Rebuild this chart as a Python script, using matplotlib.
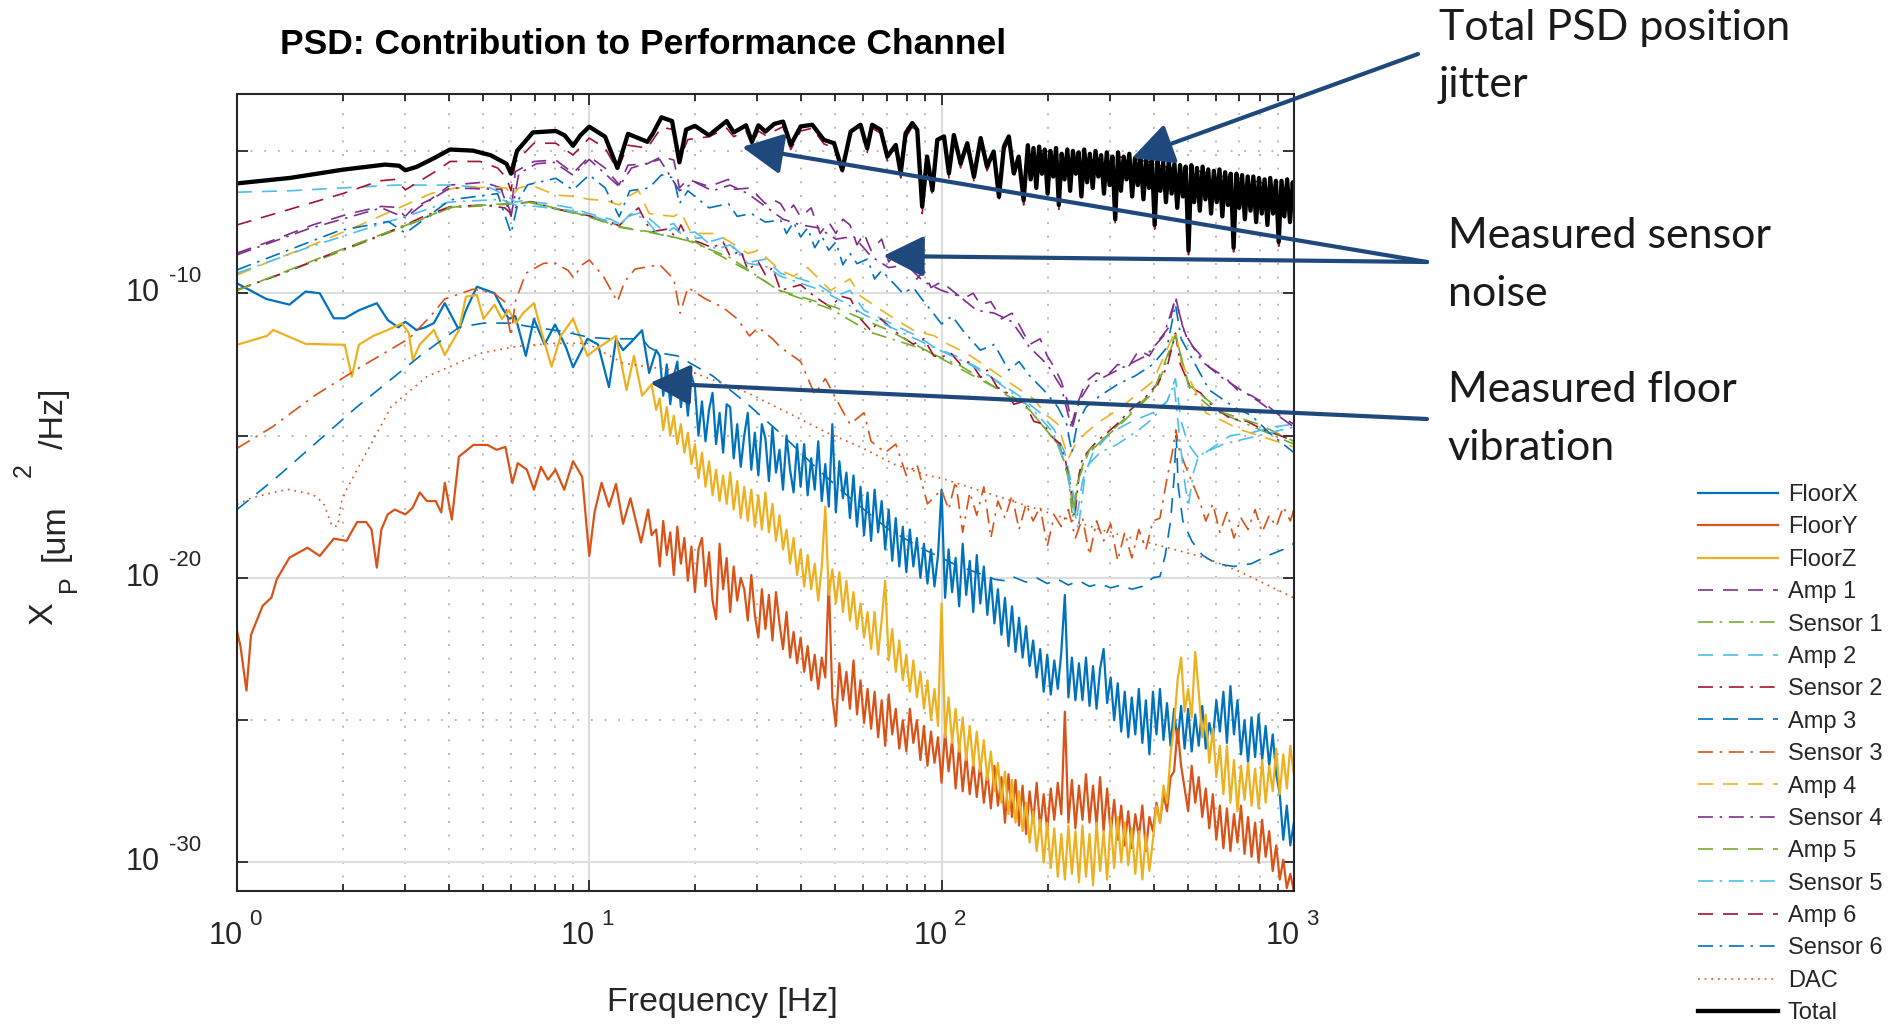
import numpy as np
import matplotlib.pyplot as plt
from matplotlib.ticker import FixedLocator, LogLocator, NullFormatter

plt.rcParams['font.family'] = ['Liberation Sans', 'DejaVu Sans']

# each row: log10(frequency in Hz), log10(PSD in um^2/Hz)
floor_x_low = np.array([
    (0.00, -9.65), (0.083, -10.2), (0.149, -10.4), (0.195, -9.94), (0.235, -10.0), (0.275, -10.88),
    (0.306, -10.88), (0.346, -10.6), (0.397, -10.35), (0.428, -10.94), (0.458, -11.2), (0.478, -11.0),
    (0.509, -11.29), (0.534, -11.2), (0.559, -11.05), (0.59, -10.35), (0.63, -11.29), (0.65, -10.6),
    (0.681, -9.77), (0.71, -9.9), (0.731, -10.0), (0.752, -10.5), (0.772, -10.9), (0.79, -10.8),
    (0.82, -12.2), (0.843, -10.9), (0.873, -11.8), (0.903, -11.1), (0.934, -11.9), (0.954, -12.6),
    (0.995, -11.6), (1.025, -11.8), (1.056, -13.3), (1.076, -11.6), (1.096, -12.0), (1.12, -11.7),
    (1.15, -11.3), (1.17, -12.8), (1.19, -12.0),
])

floor_y_low = np.array([
    (0.00, -21.86), (0.01, -22.4), (0.027, -23.96), (0.04, -22.0), (0.073, -20.98), (0.098, -20.69),
    (0.113, -20.05), (0.149, -19.29), (0.20, -18.94), (0.235, -19.23), (0.275, -18.62), (0.311, -18.7),
    (0.341, -18.04), (0.367, -18.04), (0.382, -18.3), (0.397, -19.64), (0.41, -18.3), (0.428, -17.77),
    (0.448, -17.6), (0.478, -17.77), (0.498, -17.55), (0.519, -17.0), (0.539, -17.3), (0.564, -17.3),
    (0.58, -17.7), (0.59, -16.66), (0.61, -17.95), (0.63, -15.74), (0.671, -15.33), (0.711, -15.33),
    (0.737, -15.5), (0.762, -15.4), (0.782, -16.67), (0.797, -15.97), (0.823, -16.2), (0.843, -16.9),
    (0.863, -16.1), (0.883, -16.55), (0.904, -16.2), (0.929, -16.9), (0.954, -15.9), (0.98, -16.45),
    (1.00, -19.23), (1.015, -17.7), (1.035, -16.66), (1.056, -17.5), (1.076, -16.7), (1.096, -18.1),
    (1.117, -17.2), (1.147, -18.76), (1.167, -17.6), (1.177, -18.5), (1.19, -18.3),
])

floor_z_low = np.array([
    (0.00, -11.81), (0.085, -11.5), (0.103, -11.29), (0.195, -11.78), (0.306, -11.81), (0.326, -12.93),
    (0.346, -11.81), (0.387, -11.5), (0.428, -11.29), (0.468, -11.06), (0.488, -11.4), (0.499, -12.34),
    (0.519, -11.8), (0.559, -11.29), (0.59, -12.17), (0.63, -11.3), (0.65, -10.12), (0.681, -10.06),
    (0.70, -10.9), (0.731, -10.4), (0.752, -10.9), (0.772, -10.6), (0.792, -11.05), (0.812, -10.7),
    (0.843, -10.35), (0.863, -11.29), (0.893, -12.58), (0.919, -11.5), (0.954, -10.9), (0.995, -12.2),
    (1.015, -12.0), (1.046, -11.75), (1.076, -11.5), (1.106, -13.4), (1.127, -12.2), (1.15, -13.6),
    (1.177, -13.2), (1.19, -14.1),
])

# floor spectra above ~16 Hz, one value per 0.01 decade from 10^1.2 to 10^3
hf_lf = np.arange(120, 301) / 100.0

floor_x_high = [
    -12.2, -13.6, -12.5, -13.9, -12.9, -12.4, -14.0, -13.1, -14.3, -12.9,
    -13.3, -15.0, -13.8, -15.2, -14.1, -13.5, -15.3, -14.2, -15.6, -13.9,
    -14.0, -15.8, -14.6, -16.1, -15.0, -14.2, -16.2, -14.9, -16.4, -14.6,
    -15.1, -16.6, -14.7, -16.3, -15.5, -16.9, -15.0, -16.2, -17.0, -15.3,
    -16.8, -15.3, -17.1, -15.8, -16.9, -15.2, -17.3, -16.0, -17.5, -14.6,
    -17.7, -15.9, -17.2, -16.3, -17.9, -16.4, -18.2, -16.8, -18.5, -17.0,
    -18.7, -16.9, -18.4, -17.3, -19.0, -17.6, -19.4, -17.9, -19.6, -18.2,
    -19.8, -18.3, -19.6, -18.6, -20.0, -18.8, -20.2, -19.0, -20.3, -19.2,
    -16.9, -20.7, -19.0, -20.5, -19.3, -21.0, -18.8, -20.6, -19.4, -21.2,
    -19.2, -20.9, -19.6, -21.3, -20.0, -21.6, -20.4, -22.0, -20.7, -22.4,
    -21.0, -22.6, -21.4, -22.8, -21.7, -23.1, -22.2, -23.5, -22.5, -24.0,
    -22.7, -24.1, -22.9, -23.9, -22.6, -20.6, -24.2, -22.8, -24.3, -23.0,
    -24.3, -22.8, -24.5, -23.1, -24.6, -23.2, -22.5, -24.4, -23.5, -25.0,
    -23.7, -25.4, -24.0, -25.6, -24.2, -25.5, -23.9, -25.8, -24.3, -26.2,
    -24.0, -25.5, -23.9, -25.7, -24.4, -25.9, -24.6, -25.8, -24.5, -26.0,
    -24.6, -26.1, -24.8, -25.9, -24.5, -26.0, -25.1, -25.7, -24.3, -25.4,
    -24.0, -25.8, -23.8, -25.5, -24.3, -26.2, -25.0, -26.5, -24.9, -26.3,
    -24.8, -26.4, -25.2, -26.6, -25.5, -26.9, -27.6, -29.2, -28.0, -29.4,
    -28.6,
]

floor_y_high = [
    -19.6, -18.0, -19.2, -18.4, -19.9, -18.2, -19.5, -18.6, -20.1, -18.9,
    -20.5, -19.0, -18.6, -20.3, -19.1, -20.8, -21.45, -18.8, -20.4, -19.3,
    -21.2, -19.6, -20.8, -20.0, -20.4, -21.5, -19.9, -21.3, -22.1, -20.4,
    -21.8, -20.6, -22.2, -20.5, -21.6, -22.5, -21.2, -22.8, -21.9, -23.0,
    -22.1, -23.3, -22.4, -23.6, -22.7, -23.9, -22.8, -23.5, -20.1, -24.2,
    -25.2, -23.0, -24.3, -23.3, -24.6, -22.9, -24.8, -23.6, -25.1, -23.9,
    -25.3, -24.0, -25.6, -24.3, -25.9, -24.1, -25.5, -24.6, -26.0, -25.0,
    -26.1, -24.6, -25.8, -25.0, -26.4, -25.2, -26.6, -25.4, -26.5, -25.6,
    -27.2, -25.4, -26.8, -25.7, -27.4, -25.9, -27.5, -26.2, -27.6, -26.5,
    -27.7, -26.5, -27.9, -26.8, -28.1, -26.6, -28.0, -27.0, -28.6, -26.9,
    -28.4, -27.1, -28.7, -27.3, -29.0, -27.5, -28.6, -27.2, -28.8, -27.6,
    -28.9, -27.4, -28.5, -27.2, -28.3, -24.7, -28.6, -27.1, -28.8, -27.3,
    -28.5, -26.9, -28.6, -27.3, -28.7, -27.0, -28.9, -27.4, -29.0, -27.8,
    -29.2, -28.0, -29.4, -28.2, -29.5, -28.3, -29.1, -28.0, -29.6, -28.4,
    -28.9, -27.9, -28.6, -27.6, -28.2, -27.0, -26.8, -25.3, -26.6, -27.4,
    -28.2, -26.6, -27.9, -27.0, -28.4, -27.4, -28.8, -27.6, -29.2, -28.0,
    -29.5, -28.1, -29.6, -28.3, -29.3, -28.0, -29.7, -28.4, -29.8, -28.6,
    -30.0, -28.5, -29.8, -28.9, -30.3, -29.4, -30.6, -29.9, -30.9, -30.4,
    -31.0,
]

floor_z_high = [
    -13.7, -14.8, -14.0, -15.0, -14.3, -15.3, -14.6, -15.6, -14.9, -16.0,
    -15.3, -16.5, -15.6, -16.8, -15.9, -17.1, -16.2, -17.3, -16.4, -17.4,
    -16.3, -17.6, -16.6, -17.9, -16.8, -18.0, -16.9, -18.2, -17.1, -18.3,
    -17.0, -18.4, -17.4, -18.7, -17.8, -19.0, -18.3, -19.5, -18.6, -19.9,
    -19.0, -20.3, -19.2, -20.4, -19.5, -20.8, -19.6, -17.5, -20.6, -19.7,
    -20.9, -19.8, -21.2, -20.1, -21.5, -20.5, -21.8, -20.9, -22.1, -21.2,
    -22.5, -21.2, -22.7, -21.5, -20.1, -22.9, -21.8, -23.3, -22.2, -23.6,
    -22.7, -24.0, -22.9, -24.2, -23.3, -24.6, -23.6, -25.0, -23.9, -25.2,
    -20.9, -25.6, -24.2, -25.8, -24.6, -26.1, -24.9, -26.4, -25.2, -26.6,
    -25.4, -26.8, -25.7, -27.1, -26.1, -27.5, -26.5, -27.9, -26.8, -28.3,
    -27.1, -28.6, -27.5, -28.9, -27.9, -29.3, -28.2, -29.6, -28.5, -30.0,
    -28.6, -30.2, -28.8, -30.5, -29.0, -30.6, -28.7, -30.4, -28.9, -30.7,
    -28.7, -30.5, -29.0, -30.8, -28.6, -30.3, -28.9, -30.6, -28.5, -30.2,
    -28.4, -30.0, -28.6, -30.1, -28.8, -30.4, -28.9, -30.6, -29.0, -30.3,
    -29.2, -28.0, -28.6, -27.3, -27.9, -26.2, -25.2, -23.6, -22.8, -24.7,
    -23.9, -24.9, -22.6, -24.0, -25.6, -24.8, -26.5, -25.3, -27.0, -25.9,
    -27.6, -25.9, -27.9, -26.4, -28.2, -26.6, -27.8, -26.5, -28.0, -26.7,
    -28.1, -26.4, -27.9, -26.6, -27.5, -26.0, -27.6, -26.2, -27.4, -25.9,
    -26.9,
]

amp_1 = np.array([
    (0.00, -8.59), (0.10, -8.15), (0.215, -7.6), (0.32, -7.2), (0.41, -6.95), (0.45, -6.98),
    (0.478, -7.3), (0.50, -7.0), (0.55, -6.7), (0.605, -6.2), (0.70, -6.1), (0.75, -6.3),
    (0.778, -7.2), (0.79, -5.73), (0.843, -5.37), (0.905, -5.32), (0.954, -5.78), (1.00, -5.2),
    (1.045, -5.6), (1.085, -6.19), (1.11, -5.5), (1.165, -5.45), (1.205, -5.2), (1.24, -5.32),
    (1.256, -6.3), (1.28, -6.0), (1.34, -6.25), (1.395, -6.0), (1.41, -6.35), (1.46, -6.3),
    (1.48, -6.6), (1.50, -6.85), (1.52, -6.7), (1.543, -6.85), (1.56, -7.2), (1.58, -6.9),
    (1.60, -7.32), (1.63, -7.0), (1.655, -7.9), (1.68, -7.5), (1.70, -7.9), (1.72, -7.4),
    (1.74, -7.6), (1.76, -8.3), (1.78, -7.9), (1.80, -8.5), (1.83, -8.1), (1.85, -8.9),
    (1.87, -8.6), (1.90, -8.7), (1.93, -9.5), (1.95, -9.2), (1.97, -9.8), (2.00, -9.6),
    (2.03, -9.9), (2.06, -10.2), (2.09, -10.0), (2.11, -10.4), (2.14, -10.3), (2.17, -10.9),
    (2.20, -10.7), (2.22, -11.1), (2.25, -11.8), (2.28, -11.6), (2.30, -12.2), (2.32, -12.6),
    (2.34, -13.1), (2.355, -13.7), (2.37, -14.6), (2.385, -13.9), (2.41, -13.1), (2.44, -12.8),
    (2.47, -12.9), (2.50, -12.5), (2.53, -12.6), (2.56, -12.0), (2.59, -12.2), (2.62, -11.6),
    (2.645, -11.2), (2.664, -10.1), (2.68, -11.0), (2.70, -11.7), (2.73, -12.1), (2.76, -12.6),
    (2.80, -12.9), (2.84, -13.4), (2.88, -13.6), (2.92, -13.9), (2.96, -14.3), (3.00, -14.6),
])

sensor_1 = np.array([
    (0.00, -9.9), (0.28, -8.6), (0.478, -7.65), (0.605, -7.0), (0.835, -6.82), (1.00, -7.32),
    (1.085, -7.68), (1.18, -7.88), (1.28, -8.15), (1.40, -8.75), (1.54, -9.92), (1.685, -10.55),
    (1.80, -11.38), (1.92, -11.85), (2.054, -12.55), (2.158, -13.35), (2.233, -13.85), (2.29, -14.7),
    (2.337, -15.4), (2.36, -16.5), (2.372, -17.9), (2.385, -16.6), (2.41, -15.7), (2.47, -15.0),
    (2.536, -14.2), (2.612, -13.3), (2.664, -11.5), (2.706, -13.4), (2.772, -14.1), (2.867, -14.6),
    (3.00, -15.3),
])

amp_2 = np.array([
    (0.00, -6.45), (0.15, -6.4), (0.30, -6.3), (0.45, -6.2), (0.60, -6.2), (0.72, -6.3),
    (0.77, -6.6), (0.79, -6.8), (0.81, -6.75), (0.88, -6.85), (0.95, -7.0), (1.00, -7.2),
    (1.06, -7.4), (1.085, -7.55), (1.11, -7.3), (1.15, -7.15), (1.20, -7.7), (1.24, -7.55),
    (1.26, -7.9), (1.30, -7.85), (1.34, -8.2), (1.38, -8.05), (1.42, -8.5), (1.46, -8.9),
    (1.50, -8.8), (1.543, -9.3), (1.60, -9.5), (1.65, -9.7), (1.70, -10.1), (1.74, -9.9),
    (1.78, -10.6), (1.83, -10.9), (1.88, -11.2), (1.93, -11.5), (1.98, -11.9), (2.04, -12.2),
    (2.10, -12.6), (2.16, -13.1), (2.22, -13.6), (2.28, -14.2), (2.32, -14.8), (2.35, -15.6),
    (2.37, -16.8), (2.385, -17.8), (2.40, -16.6), (2.43, -15.6), (2.48, -14.9), (2.54, -14.5),
    (2.60, -14.2), (2.64, -13.8), (2.664, -13.0), (2.68, -14.5), (2.70, -15.3), (2.73, -15.8),
    (2.76, -15.5), (2.82, -15.0), (2.88, -14.9), (2.94, -14.7), (3.00, -14.6),
])

sensor_2 = np.array([
    (0.00, -9.88), (0.13, -9.3), (0.28, -8.55), (0.40, -8.0), (0.478, -7.6), (0.53, -7.3),
    (0.605, -6.96), (0.70, -6.9), (0.76, -7.0), (0.778, -7.2), (0.80, -6.85), (0.835, -6.78),
    (0.91, -7.05), (0.954, -7.15), (1.00, -7.28), (1.05, -7.45), (1.085, -7.63), (1.11, -7.3),
    (1.14, -7.0), (1.165, -7.6), (1.18, -7.83), (1.22, -7.75), (1.245, -8.0), (1.26, -7.6),
    (1.28, -8.1), (1.31, -8.2), (1.35, -8.4), (1.38, -8.2), (1.40, -8.7), (1.43, -8.5),
    (1.45, -9.18), (1.48, -8.9), (1.50, -9.35), (1.52, -9.1), (1.543, -9.9), (1.60, -9.7),
    (1.638, -10.1), (1.685, -10.49), (1.714, -10.1), (1.742, -10.2), (1.77, -10.9), (1.80, -11.32),
    (1.827, -10.9), (1.855, -11.2), (1.884, -11.5), (1.92, -11.79), (1.95, -11.6), (1.978, -12.2),
    (1.997, -12.26), (2.026, -12.1), (2.054, -12.5), (2.082, -12.4), (2.111, -12.96), (2.13, -12.7),
    (2.158, -13.3), (2.186, -13.5), (2.205, -13.9), (2.233, -13.8), (2.262, -14.5), (2.29, -14.6),
    (2.31, -15.0), (2.337, -15.3), (2.352, -15.9), (2.366, -16.8), (2.378, -17.9), (2.39, -16.4),
    (2.40, -15.8), (2.413, -15.6), (2.441, -15.2), (2.47, -14.9), (2.498, -14.6), (2.536, -14.1),
    (2.564, -13.8), (2.583, -13.6), (2.612, -13.2), (2.64, -12.6), (2.664, -11.4), (2.678, -12.5),
    (2.706, -13.3), (2.735, -13.5), (2.772, -14.0), (2.82, -14.4), (2.867, -14.5), (2.914, -14.8),
    (2.961, -15.0), (3.00, -15.2),
])

amp_3 = np.array([
    (0.00, -17.6), (0.11, -16.5), (0.34, -14.0), (0.45, -12.9), (0.52, -12.2), (0.63, -11.2),
    (0.70, -11.05), (0.78, -11.05), (0.82, -11.15), (0.93, -11.35), (1.00, -11.55), (1.06, -11.6),
    (1.15, -11.6), (1.17, -11.9), (1.20, -12.1), (1.25, -12.2), (1.35, -12.9), (1.45, -13.9),
    (1.55, -15.0), (1.65, -16.2), (1.75, -17.3), (1.85, -18.3), (1.95, -19.0), (2.05, -19.6),
    (2.12, -19.9), (2.15, -20.05), (2.18, -20.1), (2.20, -19.95), (2.24, -20.15), (2.27, -20.0),
    (2.30, -20.2), (2.33, -20.05), (2.36, -20.25), (2.39, -20.1), (2.42, -20.3), (2.45, -20.2),
    (2.48, -20.35), (2.51, -20.25), (2.54, -20.4), (2.57, -20.3), (2.60, -20.0), (2.62, -19.95),
    (2.635, -19.2), (2.65, -18.0), (2.66, -16.5), (2.666, -15.0), (2.672, -16.8), (2.685, -18.0),
    (2.71, -18.7), (2.74, -19.2), (2.78, -19.5), (2.83, -19.6), (2.88, -19.5), (2.93, -19.2),
    (2.97, -19.0), (3.00, -18.8),
])

sensor_3 = np.array([
    (0.00, -15.45), (0.10, -14.7), (0.22, -13.6), (0.35, -12.6), (0.49, -11.58), (0.55, -10.8),
    (0.59, -10.2), (0.67, -9.86), (0.73, -10.0), (0.76, -10.3), (0.778, -11.5), (0.79, -10.3),
    (0.82, -9.3), (0.87, -8.95), (0.90, -8.92), (0.94, -9.2), (0.955, -9.45), (0.98, -9.0),
    (1.00, -8.83), (1.04, -9.4), (1.08, -10.3), (1.10, -9.6), (1.13, -9.15), (1.20, -9.0),
    (1.24, -9.5), (1.258, -10.7), (1.28, -9.8), (1.33, -10.2), (1.38, -10.5), (1.42, -10.9),
    (1.455, -11.5), (1.48, -11.2), (1.52, -11.6), (1.543, -11.9), (1.60, -12.4), (1.64, -13.55),
    (1.67, -13.0), (1.70, -13.7), (1.74, -14.6), (1.78, -14.2), (1.80, -15.2), (1.84, -15.6),
    (1.87, -15.3), (1.90, -16.4), (1.93, -16.0), (1.96, -17.4), (2.00, -16.9), (2.02, -17.6),
    (2.04, -16.6), (2.06, -18.4), (2.08, -17.0), (2.10, -17.8), (2.12, -16.8), (2.14, -18.6),
    (2.16, -17.3), (2.18, -17.9), (2.20, -17.1), (2.22, -18.3), (2.24, -17.4), (2.26, -18.0),
    (2.28, -17.5), (2.30, -18.9), (2.32, -17.8), (2.34, -18.2), (2.36, -17.6), (2.38, -18.6),
    (2.40, -17.9), (2.42, -19.2), (2.44, -18.0), (2.46, -18.7), (2.48, -18.1), (2.50, -19.4),
    (2.52, -18.4), (2.54, -19.3), (2.56, -18.3), (2.58, -19.0), (2.60, -18.0), (2.62, -17.9),
    (2.64, -16.5), (2.655, -15.6), (2.665, -14.8), (2.675, -15.5), (2.69, -16.0), (2.71, -16.6),
    (2.73, -17.2), (2.75, -18.0), (2.77, -17.4), (2.79, -18.4), (2.81, -17.7), (2.83, -18.6),
    (2.85, -17.9), (2.87, -18.3), (2.89, -17.6), (2.91, -18.4), (2.93, -17.8), (2.95, -18.2),
    (2.97, -17.5), (2.99, -18.0), (3.00, -17.6),
])

amp_4 = np.array([
    (0.00, -9.36), (0.10, -8.85), (0.215, -8.3), (0.35, -7.6), (0.478, -6.9), (0.55, -6.5),
    (0.62, -6.3), (0.70, -6.28), (0.765, -6.3), (0.778, -6.6), (0.80, -6.3), (0.835, -6.2),
    (0.905, -6.55), (0.96, -6.6), (1.00, -6.7), (1.05, -6.75), (1.085, -6.9), (1.11, -6.6),
    (1.14, -6.4), (1.17, -7.2), (1.20, -7.25), (1.24, -7.3), (1.26, -7.15), (1.29, -7.9),
    (1.36, -7.9), (1.40, -8.2), (1.45, -8.6), (1.48, -8.5), (1.52, -8.95), (1.543, -9.2),
    (1.58, -9.4), (1.62, -9.1), (1.685, -9.9), (1.74, -9.5), (1.77, -10.1), (1.83, -10.6),
    (1.88, -11.0), (1.92, -11.3), (1.98, -11.5), (2.02, -11.8), (2.07, -12.1), (2.13, -12.6),
    (2.20, -13.2), (2.26, -13.7), (2.30, -14.3), (2.33, -14.6), (2.36, -15.8), (2.38, -15.3),
    (2.41, -14.9), (2.45, -14.5), (2.50, -14.1), (2.60, -13.1), (2.664, -11.3), (2.68, -12.4),
    (2.75, -14.2), (2.85, -14.8), (2.95, -15.2), (3.00, -15.4),
])

sensor_4 = np.array([
    (0.00, -8.65), (0.20, -7.75), (0.41, -7.0), (0.478, -7.35), (0.52, -6.95), (0.605, -6.3),
    (0.75, -6.35), (0.778, -7.3), (0.80, -5.8), (0.85, -5.45), (0.90, -5.4), (0.954, -5.85),
    (1.00, -5.3), (1.085, -6.25), (1.12, -5.6), (1.20, -5.3), (1.256, -6.4), (1.30, -6.1),
    (1.35, -6.4), (1.40, -6.2), (1.45, -6.5), (1.50, -6.95), (1.55, -7.4), (1.60, -7.6),
    (1.65, -7.7), (1.70, -8.1), (1.75, -8.0), (1.80, -8.7), (1.85, -9.1), (1.90, -9.0),
    (1.95, -9.6), (2.00, -9.9), (2.05, -10.1), (2.10, -10.6), (2.15, -10.7), (2.20, -11.0),
    (2.25, -11.9), (2.30, -12.5), (2.34, -13.3), (2.37, -14.8), (2.39, -13.8), (2.42, -13.2),
    (2.50, -12.7), (2.58, -12.2), (2.63, -11.5), (2.664, -10.2), (2.69, -11.4), (2.74, -12.4),
    (2.80, -13.0), (2.90, -13.8), (3.00, -14.7),
])

amp_5 = np.array([
    (0.00, -9.9), (0.30, -8.45), (0.478, -7.62), (0.605, -6.98), (0.835, -6.8), (1.00, -7.3),
    (1.085, -7.66), (1.18, -7.86), (1.30, -8.2), (1.45, -9.2), (1.54, -9.9), (1.70, -10.5),
    (1.85, -11.3), (2.00, -12.3), (2.15, -13.3), (2.25, -14.1), (2.33, -15.3), (2.36, -16.4),
    (2.375, -17.7), (2.39, -16.5), (2.42, -15.5), (2.50, -14.7), (2.60, -13.5), (2.664, -11.45),
    (2.70, -13.2), (2.80, -14.2), (2.90, -14.6), (3.00, -15.2),
])

sensor_5 = np.array([
    (0.00, -9.3), (0.20, -8.4), (0.40, -7.6), (0.48, -7.3), (0.60, -6.8), (0.75, -6.7),
    (0.79, -6.9), (0.85, -6.95), (0.95, -7.1), (1.00, -7.25), (1.085, -7.6), (1.12, -7.2),
    (1.16, -7.4), (1.20, -8.0), (1.24, -7.7), (1.28, -8.1), (1.32, -8.05), (1.36, -8.45),
    (1.40, -8.3), (1.45, -8.95), (1.50, -9.05), (1.543, -9.4), (1.60, -9.65), (1.66, -9.9),
    (1.72, -10.3), (1.78, -10.75), (1.84, -11.1), (1.90, -11.45), (1.96, -11.8), (2.02, -12.15),
    (2.08, -12.5), (2.14, -12.95), (2.20, -13.5), (2.26, -14.1), (2.31, -14.8), (2.35, -15.9),
    (2.37, -17.2), (2.388, -18.3), (2.41, -16.1), (2.45, -15.6), (2.50, -15.3), (2.56, -14.8),
    (2.60, -14.4), (2.64, -13.8), (2.66, -13.2), (2.675, -15.0), (2.69, -16.6), (2.70, -17.5),
    (2.715, -16.3), (2.73, -15.7), (2.80, -15.3), (2.90, -15.0), (3.00, -14.7),
])

amp_6 = np.array([
    (0.00, -7.6), (0.15, -7.05), (0.30, -6.5), (0.405, -6.05), (0.45, -6.0), (0.478, -6.37),
    (0.50, -6.2), (0.56, -5.75), (0.605, -5.37), (0.69, -5.37), (0.74, -5.6), (0.765, -5.95),
    (0.778, -6.4), (0.79, -5.4), (0.843, -4.73), (0.905, -4.73), (0.954, -5.14), (1.00, -4.55),
    (1.045, -4.9), (1.08, -5.67), (1.11, -4.8), (1.165, -4.9), (1.205, -4.17), (1.24, -4.25),
    (1.256, -5.3), (1.28, -4.6), (1.34, -4.5), (1.39, -4.2), (1.41, -4.5), (1.445, -4.3),
    (1.462, -4.8), (1.48, -4.3), (1.50, -4.45), (1.55, -4.15), (1.572, -4.95), (1.60, -4.3),
    (1.633, -4.2), (1.666, -4.75), (1.695, -4.9), (1.718, -5.8), (1.742, -4.45), (1.77, -4.2),
    (1.789, -5.05), (1.803, -4.2), (1.83, -4.4), (1.846, -5.35), (1.87, -4.9), (1.884, -5.95),
    (1.90, -4.5), (1.917, -4.15), (1.931, -4.4), (1.945, -7.2), (1.959, -5.3), (1.974, -6.55),
    (1.988, -4.75), (2.007, -4.6), (2.021, -5.95), (2.035, -4.6), (2.054, -5.6), (2.073, -4.85),
    (2.092, -6.05), (2.111, -4.7), (2.129, -5.7), (2.148, -5.15), (2.163, -6.8), (2.177, -5.0),
    (2.191, -4.65), (2.205, -5.95), (2.219, -5.35), (2.233, -6.9), (2.245, -4.95), (2.325, -5.05),
    (2.333, -7.05), (2.341, -5.25), (2.485, -5.35), (2.493, -7.55), (2.501, -5.2), (2.597, -5.4),
    (2.605, -7.75), (2.613, -5.5), (2.693, -5.7), (2.701, -8.65), (2.709, -5.65), (2.821, -5.95),
    (2.829, -8.55), (2.837, -5.95), (2.949, -6.2), (2.957, -8.35), (2.965, -6.2), (3.00, -6.75),
])

sensor_6 = np.array([
    (0.00, -9.18), (0.29, -7.8), (0.43, -7.48), (0.478, -7.89), (0.51, -7.6), (0.605, -6.72),
    (0.74, -6.5), (0.778, -7.9), (0.80, -6.7), (0.825, -6.19), (0.905, -5.96), (0.954, -6.37),
    (1.00, -5.84), (1.045, -6.3), (1.085, -7.31), (1.115, -6.4), (1.17, -6.3), (1.205, -5.84),
    (1.24, -5.95), (1.256, -6.85), (1.28, -6.4), (1.34, -7.0), (1.395, -6.85), (1.42, -7.3),
    (1.46, -7.2), (1.50, -7.5), (1.543, -7.43), (1.56, -7.9), (1.58, -7.5), (1.60, -8.02),
    (1.62, -7.7), (1.64, -8.4), (1.66, -8.0), (1.68, -8.49), (1.70, -8.2), (1.72, -9.0),
    (1.74, -8.6), (1.76, -8.96), (1.79, -8.8), (1.81, -9.5), (1.83, -9.2), (1.86, -9.6),
    (1.89, -10.0), (1.92, -9.8), (1.94, -10.14), (1.97, -10.6), (2.00, -11.08), (2.03, -10.8),
    (2.06, -11.3), (2.11, -12.0), (2.15, -11.8), (2.19, -12.7), (2.22, -12.4), (2.25, -12.9),
    (2.29, -13.4), (2.33, -14.0), (2.355, -14.6), (2.37, -15.6), (2.385, -14.6), (2.41, -14.0),
    (2.45, -13.6), (2.50, -13.2), (2.55, -12.9), (2.60, -12.5), (2.64, -11.9), (2.664, -10.4),
    (2.68, -11.6), (2.72, -12.5), (2.76, -13.4), (2.83, -14.0), (2.88, -14.3), (2.93, -14.9),
    (3.00, -15.6),
])

dac = np.array([
    (0.00, -17.42), (0.043, -17.18), (0.144, -16.89), (0.215, -17.07), (0.245, -17.36), (0.27, -18.18),
    (0.286, -18.18), (0.296, -17.36), (0.311, -16.89), (0.336, -16.32), (0.438, -13.98), (0.539, -12.93),
    (0.691, -12.11), (0.792, -11.87), (0.894, -11.76), (0.995, -11.76), (1.096, -12.46), (1.30, -12.81),
    (1.45, -13.5), (1.58, -14.3), (1.675, -14.9), (1.77, -15.4), (1.864, -16.0), (1.96, -16.4),
    (2.00, -16.5), (2.15, -17.1), (2.30, -17.7), (2.45, -18.3), (2.60, -18.8), (2.75, -19.3),
    (2.85, -19.8), (2.95, -20.4), (3.00, -20.7),
])

total = np.array([
    (0.00, -6.14), (0.15, -5.95), (0.30, -5.66), (0.42, -5.48), (0.46, -5.52), (0.478, -5.68),
    (0.51, -5.56), (0.56, -5.25), (0.605, -4.95), (0.67, -4.99), (0.72, -5.15), (0.765, -5.45),
    (0.778, -5.8), (0.795, -5.0), (0.84, -4.35), (0.905, -4.3), (0.93, -4.45), (0.954, -4.82),
    (0.975, -4.45), (1.00, -4.15), (1.045, -4.5), (1.08, -5.6), (1.11, -4.4), (1.165, -4.68),
    (1.18, -4.4), (1.205, -3.82), (1.235, -3.95), (1.256, -5.4), (1.275, -4.25), (1.30, -4.12),
    (1.34, -4.45), (1.39, -3.95), (1.41, -4.35), (1.445, -4.1), (1.462, -4.68), (1.48, -4.1),
    (1.50, -4.32), (1.525, -4.05), (1.55, -3.97), (1.572, -4.79), (1.60, -4.14), (1.633, -4.08),
    (1.666, -4.61), (1.695, -4.73), (1.718, -5.67), (1.742, -4.32), (1.77, -4.08), (1.789, -4.91),
    (1.803, -4.08), (1.827, -4.26), (1.846, -5.2), (1.87, -4.79), (1.884, -5.79), (1.898, -4.38),
    (1.917, -4.02), (1.931, -4.26), (1.945, -6.96), (1.959, -5.2), (1.974, -6.38), (1.988, -4.61),
    (2.007, -4.49), (2.021, -5.79), (2.035, -4.44), (2.054, -5.44), (2.073, -4.73), (2.092, -5.91),
    (2.111, -4.55), (2.129, -5.55), (2.148, -5.02), (2.163, -6.61), (2.177, -4.85), (2.191, -4.49),
    (2.205, -5.79), (2.219, -5.2), (2.233, -6.73),
    (2.245, -4.8), (2.253, -6.0), (2.261, -4.9), (2.269, -6.3), (2.277, -4.85), (2.285, -5.8),
    (2.293, -4.95), (2.301, -6.5), (2.309, -5.0), (2.317, -5.9), (2.325, -4.9), (2.333, -6.9),
    (2.341, -5.1), (2.349, -6.0), (2.357, -4.95), (2.365, -6.4), (2.373, -5.0), (2.381, -5.8),
    (2.389, -5.05), (2.397, -6.6), (2.405, -4.95), (2.413, -6.1), (2.421, -5.1), (2.429, -6.3),
    (2.437, -5.0), (2.445, -5.9), (2.453, -5.15), (2.461, -6.5), (2.469, -5.05), (2.477, -6.2),
    (2.485, -5.2), (2.493, -7.4), (2.501, -5.05), (2.509, -6.4), (2.517, -5.2), (2.525, -6.0),
    (2.533, -5.1), (2.541, -6.6), (2.549, -5.25), (2.557, -6.2), (2.565, -5.2), (2.573, -6.7),
    (2.581, -5.3), (2.589, -6.3), (2.597, -5.25), (2.605, -7.6), (2.613, -5.35), (2.621, -6.4),
    (2.629, -5.4), (2.637, -6.8), (2.645, -5.35), (2.653, -6.5), (2.661, -5.45), (2.669, -7.0),
    (2.677, -5.5), (2.685, -6.6), (2.693, -5.55), (2.701, -8.5), (2.709, -5.5), (2.717, -6.8),
    (2.725, -5.6), (2.733, -7.1), (2.741, -5.55), (2.749, -6.7), (2.757, -5.65), (2.765, -7.2),
    (2.773, -5.7), (2.781, -6.8), (2.789, -5.65), (2.797, -7.3), (2.805, -5.75), (2.813, -6.9),
    (2.821, -5.8), (2.829, -8.4), (2.837, -5.8), (2.845, -7.0), (2.853, -5.85), (2.861, -7.4),
    (2.869, -5.9), (2.877, -7.1), (2.885, -5.9), (2.893, -7.5), (2.901, -5.95), (2.909, -7.2),
    (2.917, -6.0), (2.925, -7.6), (2.933, -5.95), (2.941, -7.2), (2.949, -6.05), (2.957, -8.2),
    (2.965, -6.05), (2.973, -7.3), (2.981, -6.0), (2.989, -7.5), (2.997, -6.1), (3.00, -6.6),
])

floor_x = np.vstack([floor_x_low, np.column_stack([hf_lf, floor_x_high])])
floor_y = np.vstack([floor_y_low, np.column_stack([hf_lf, floor_y_high])])
floor_z = np.vstack([floor_z_low, np.column_stack([hf_lf, floor_z_high])])

dashed = (0, (9, 6))
dashdot = (0, (9, 4, 1.5, 4))
dotted = (0, (1, 3))

# name, data, colour, line style, width
series = [
    ("FloorX", floor_x, "#0072BD", "-", 1.6),
    ("FloorY", floor_y, "#D95319", "-", 1.6),
    ("FloorZ", floor_z, "#EDB120", "-", 1.6),
    ("Amp 1", amp_1, "#7E2F8E", dashed, 1.2),
    ("Sensor 1", sensor_1, "#77AC30", dashdot, 1.2),
    ("Amp 2", amp_2, "#4DBEEE", dashed, 1.2),
    ("Sensor 2", sensor_2, "#A2142F", dashdot, 1.2),
    ("Amp 3", amp_3, "#0072BD", dashed, 1.2),
    ("Sensor 3", sensor_3, "#D95319", dashdot, 1.2),
    ("Amp 4", amp_4, "#EDB120", dashed, 1.2),
    ("Sensor 4", sensor_4, "#7E2F8E", dashdot, 1.2),
    ("Amp 5", amp_5, "#77AC30", dashed, 1.2),
    ("Sensor 5", sensor_5, "#4DBEEE", dashdot, 1.2),
    ("Amp 6", amp_6, "#A2142F", dashed, 1.2),
    ("Sensor 6", sensor_6, "#0072BD", dashdot, 1.2),
    ("DAC", dac, "#D95319", dotted, 1.2),
    ("Total", total, "black", "-", 3.1),
]

fig = plt.figure(figsize=(18.88, 10.33), dpi=100)
ax = fig.add_axes([0.1255, 0.1375, 0.5598, 0.7715])

for name, pts, col, ls, lw in series:
    ax.plot(10 ** pts[:, 0], 10 ** pts[:, 1], color=col, linestyle=ls, lw=lw, label=name)

ax.set_xscale('log')
ax.set_yscale('log')
ax.set_xlim(1, 1000)
ax.set_ylim(1e-31, 1e-3)

ax.xaxis.set_major_locator(FixedLocator([1, 10, 100, 1000]))
ax.xaxis.set_minor_locator(LogLocator(base=10, subs=np.arange(2, 10)))
ax.yaxis.set_major_locator(FixedLocator([1e-30, 1e-20, 1e-10]))
ax.yaxis.set_minor_locator(FixedLocator([1e-25, 1e-15, 1e-5]))
ax.xaxis.set_minor_formatter(NullFormatter())
ax.yaxis.set_minor_formatter(NullFormatter())
ax.tick_params(which='both', direction='in', top=True, right=True,
               labelbottom=False, labelleft=False, color='#262626', width=1.3)
ax.xaxis.set_tick_params(which='major', length=8)
ax.xaxis.set_tick_params(which='minor', length=5)
ax.yaxis.set_tick_params(which='both', length=8)

ax.set_axisbelow(True)
ax.grid(True, which='major', color='#dedede', lw=1.5, ls='-')
ax.grid(True, which='minor', color='#b8b8b8', lw=1.4, ls=(0, (1, 6)))
for sp in ax.spines.values():
    sp.set_color('#262626')
    sp.set_linewidth(1.5)

# MATLAB-style "10 ^n" tick labels
tick_col = '#262626'
for d in range(0, 4):
    ax.annotate('10', xy=(10.0 ** d, 0), xycoords=('data', 'axes fraction'),
                xytext=(6, -45), textcoords='offset pixels', ha='right', va='center',
                fontsize=22, color=tick_col)
    ax.annotate(str(d), xy=(10.0 ** d, 0), xycoords=('data', 'axes fraction'),
                xytext=(12, -29), textcoords='offset pixels', ha='left', va='center',
                fontsize=16, color=tick_col)
for d in (-10, -20, -30):
    ax.annotate('10', xy=(0, 10.0 ** d), xycoords=('axes fraction', 'data'),
                xytext=(-77, 0), textcoords='offset pixels', ha='right', va='center',
                fontsize=22, color=tick_col)
    ax.annotate(str(d), xy=(0, 10.0 ** d), xycoords=('axes fraction', 'data'),
                xytext=(-68, 17), textcoords='offset pixels', ha='left', va='center',
                fontsize=16, color=tick_col)

fig.text(643 / 1888, 1 - 45 / 1033, 'PSD: Contribution to Performance Channel',
         ha='center', va='center', fontsize=25.5, fontweight='bold')

# overlay in pixel units for labels and callouts
ov = fig.add_axes([0, 0, 1, 1], zorder=5)
ov.set_xlim(0, 1888)
ov.set_ylim(1033, 0)
ov.axis('off')
ov.patch.set_alpha(0)

ov.text(722, 1003, 'Frequency [Hz]', ha='center', va='center', fontsize=24.5, color=tick_col)
ov.text(44, 614, 'X', rotation=90, ha='center', va='center', fontsize=24.5, color=tick_col)
ov.text(69, 584, 'P', rotation=90, ha='center', va='center', fontsize=18, color=tick_col)
ov.text(55, 533, '[um', rotation=90, ha='center', va='center', fontsize=24.5, color=tick_col)
ov.text(24, 470, '2', rotation=90, ha='center', va='center', fontsize=18, color=tick_col)
ov.text(55, 419, '/Hz]', rotation=90, ha='center', va='center', fontsize=24.5, color=tick_col)

arrow_col = '#1F497D'
arrows = [
    ((1418, 54), (1132, 158)),
    ((1427, 262), (742, 147)),
    ((1427, 262), (883, 256)),
    ((1427, 419), (650, 383)),
]
for tail, tip in arrows:
    ov.annotate('', xy=tip, xytext=tail,
                arrowprops=dict(arrowstyle='-|>,head_length=0.9,head_width=0.45',
                                color=arrow_col, lw=3, mutation_scale=28,
                                shrinkA=0, shrinkB=0))

callouts = [
    (1439, 28, 'Total PSD position'), (1439, 85, 'jitter'),
    (1448, 236, 'Measured sensor'), (1448, 294, 'noise'),
    (1448, 390, 'Measured floor'), (1448, 448, 'vibration'),
]
for x, y, s in callouts:
    ov.text(x, y, s, ha='left', va='center', fontsize=31, family='Lato', color='#1a1a1a')

fig.legend(loc='upper left', bbox_to_anchor=(1698 / 1888, 1 - 484 / 1033), frameon=False,
           fontsize=17, handlelength=3.4, handletextpad=0.4, labelspacing=0.44,
           borderpad=0, borderaxespad=0, labelcolor='#262626')

fig.savefig('out.png', dpi=100)
